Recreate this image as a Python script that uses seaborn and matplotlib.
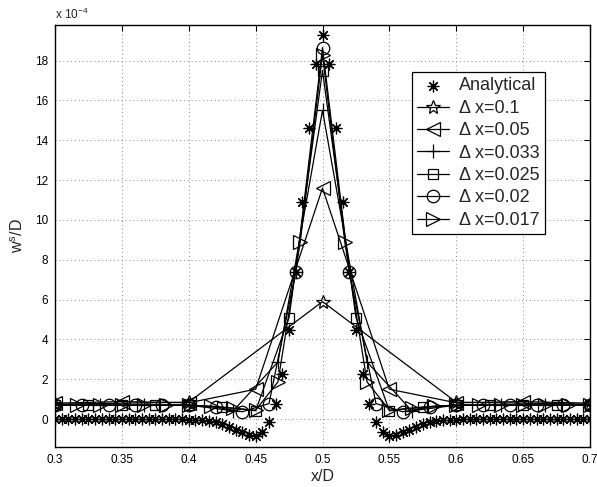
import numpy as np
import pandas as pd
import matplotlib
matplotlib.use("Agg")
import matplotlib.pyplot as plt
import seaborn as sns
from matplotlib.ticker import FuncFormatter

sns.set_style("white")
plt.rcParams['font.family'] = ['Liberation Sans', 'DejaVu Sans']
plt.rcParams['mathtext.default'] = 'regular'

# ---------------- data (values in units of 1e-4) ----------------
analytical_x = [0.300, 0.305, 0.310, 0.315, 0.320, 0.325, 0.330, 0.335, 0.340, 0.345,
                0.350, 0.355, 0.360, 0.365, 0.370, 0.375, 0.380, 0.385, 0.390, 0.395,
                0.400, 0.405, 0.410, 0.415, 0.420, 0.425, 0.430, 0.435, 0.440, 0.445,
                0.450, 0.455, 0.460, 0.465, 0.470, 0.475, 0.480, 0.485, 0.490, 0.495,
                0.500, 0.505, 0.510, 0.515, 0.520, 0.525, 0.530, 0.535, 0.540, 0.545,
                0.550, 0.555, 0.560, 0.565, 0.570, 0.575, 0.580, 0.585, 0.590, 0.595,
                0.600, 0.605, 0.610, 0.615, 0.620, 0.625, 0.630, 0.635, 0.640, 0.645,
                0.650, 0.655, 0.660, 0.665, 0.670, 0.675, 0.680, 0.685, 0.690, 0.695,
                0.700]
analytical_y = [0.0, 0.0, 0.0, 0.0, 0.0, 0.0, 0.0, 0.0, 0.0, 0.0,
                0.0, 0.0, 0.0, 0.0, 0.0, 0.0, 0.0, 0.0, -0.01, -0.01,
                -0.02, -0.03, -0.05, -0.10, -0.17, -0.27, -0.40, -0.53, -0.67, -0.78,
                -0.85, -0.63, -0.13, 0.78, 2.25, 4.45, 7.40, 10.90, 14.60, 17.85,
                19.30, 17.85, 14.60, 10.90, 7.40, 4.45, 2.25, 0.78, -0.13, -0.63,
                -0.85, -0.78, -0.67, -0.53, -0.40, -0.27, -0.17, -0.10, -0.05, -0.03,
                -0.02, -0.01, -0.01, 0.0, 0.0, 0.0, 0.0, 0.0, 0.0, 0.0,
                0.0, 0.0, 0.0, 0.0, 0.0, 0.0, 0.0, 0.0, 0.0, 0.0,
                0.0]

dx01_x = [0.3, 0.4, 0.5, 0.6, 0.7]
dx01_y = [0.75, 0.85, 5.9, 0.85, 0.75]

dx005_x = [0.30, 0.35, 0.40, 0.45, 0.50, 0.55, 0.60, 0.65, 0.70]
dx005_y = [0.80, 0.88, 0.82, 1.50, 11.6, 1.50, 0.82, 0.88, 0.80]

dx0033_x = [0.3, 0.3333, 0.3667, 0.4, 0.4333, 0.4667, 0.5, 0.5333, 0.5667, 0.6, 0.6333, 0.6667, 0.7]
dx0033_y = [0.70, 0.70, 0.70, 0.70, 0.42, 2.87, 15.5, 2.87, 0.42, 0.70, 0.70, 0.70, 0.70]

dx0025_x = [0.300, 0.325, 0.350, 0.375, 0.400, 0.425, 0.450, 0.475, 0.500,
            0.525, 0.550, 0.575, 0.600, 0.625, 0.650, 0.675, 0.700]
dx0025_y = [0.70, 0.70, 0.70, 0.70, 0.70, 0.60, 0.42, 5.10, 17.5,
            5.10, 0.42, 0.60, 0.70, 0.70, 0.70, 0.70, 0.70]

dx002_x = [0.30, 0.32, 0.34, 0.36, 0.38, 0.40, 0.42, 0.44, 0.46, 0.48, 0.50,
           0.52, 0.54, 0.56, 0.58, 0.60, 0.62, 0.64, 0.66, 0.68, 0.70]
dx002_y = [0.70, 0.70, 0.70, 0.70, 0.70, 0.70, 0.60, 0.37, 0.78, 7.40, 18.65,
           7.40, 0.78, 0.37, 0.60, 0.70, 0.70, 0.70, 0.70, 0.70, 0.70]

dx0017_x = [0.3, 0.3167, 0.3333, 0.35, 0.3667, 0.3833, 0.4, 0.4167, 0.4333, 0.45,
            0.4667, 0.4833, 0.5, 0.5167, 0.5333, 0.55, 0.5667, 0.5833, 0.6,
            0.6167, 0.6333, 0.65, 0.6667, 0.6833, 0.7]
dx0017_y = [0.70, 0.70, 0.70, 0.70, 0.70, 0.70, 0.70, 0.65, 0.55, 0.45,
            1.87, 8.87, 18.3, 8.87, 1.87, 0.45, 0.55, 0.65, 0.70,
            0.70, 0.70, 0.70, 0.70, 0.70, 0.70]

labels = ['Analytical', 'Δ x=0.1', 'Δ x=0.05', 'Δ x=0.033', 'Δ x=0.025', 'Δ x=0.02', 'Δ x=0.017']
xticks = [0.3, 0.35, 0.4, 0.45, 0.5, 0.55, 0.6, 0.65, 0.7]
yticks = [0, 2, 4, 6, 8, 10, 12, 14, 16, 18]

# ---------------- figure ----------------
fig = plt.figure(figsize=(5.97, 4.87), dpi=100)
ax = fig.add_axes([55 / 597, 40 / 487, 535 / 597, 422.3 / 487])

lw = 0.9
# analytical: markers only
sns.scatterplot(x=analytical_x, y=analytical_y, ax=ax, color='k',
                marker=(8, 2, 0), s=60, linewidth=lw, edgecolor='k',
                label=labels[0], zorder=3)

series = [
    (dx01_x, dx01_y, '*', 10.5, labels[1]),
    (dx005_x, dx005_y, '<', 9.5, labels[2]),
    (dx0033_x, dx0033_y, '+', 10, labels[3]),
    (dx0025_x, dx0025_y, 's', 6.5, labels[4]),
    (dx002_x, dx002_y, 'o', 9, labels[5]),
    (dx0017_x, dx0017_y, '>', 9.5, labels[6]),
]
for xs, ys, mk, ms, lab in series:
    sns.lineplot(x=xs, y=ys, ax=ax, color='k', linewidth=lw, marker=mk,
                 markersize=ms, markerfacecolor='none', markeredgecolor='k',
                 markeredgewidth=lw, label=lab, sort=False)

ax.set_xlim(0.3, 0.7)
ax.set_ylim(-1.4, 19.8)
ax.set_xticks(xticks)
ax.set_yticks(yticks)
ax.xaxis.set_major_formatter(FuncFormatter(lambda v, p: '%g' % v))
ax.yaxis.set_major_formatter(FuncFormatter(lambda v, p: '%g' % v))
ax.tick_params(direction='in', length=4, width=0.8, labelsize=8.5, colors='k',
               top=True, right=True, pad=5)
ax.grid(True, linestyle=(0, (1, 3)), color='#888888', linewidth=0.7)
for s in ax.spines.values():
    s.set_color('k')
    s.set_linewidth(1.0)

ax.set_xlabel('x/D', fontsize=11.5, labelpad=2)
ax.set_ylabel('w$^s$/D', fontsize=11.5, labelpad=6)
fig.text(55 / 597, 1 - 19 / 487, r'x 10$^{-4}$', fontsize=8.5, ha='left', va='baseline')

leg = ax.legend(loc='upper left', bbox_to_anchor=(0.667, 0.888), fontsize=13,
                frameon=True, fancybox=False, edgecolor='k', framealpha=1,
                handlelength=1.75, handletextpad=0.55, labelspacing=0.3,
                borderpad=0.3, borderaxespad=0)
leg.get_frame().set_linewidth(0.9)

fig.savefig('out.png', dpi=100)
